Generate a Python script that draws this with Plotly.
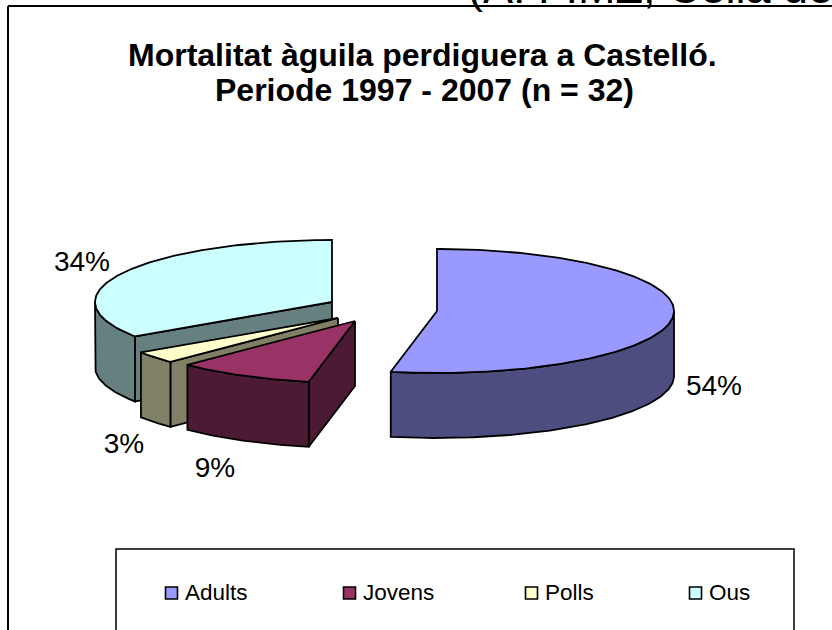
import numpy as np
import plotly.graph_objects as go

categories = ["Adults", "Jovens", "Polls", "Ous"]
counts = [17, 3, 1, 11]  # deaths per class, total n = 32
printed_pct = [54, 9, 3, 34]  # percentages as printed beside the slices
top_colors = ["#9999FF", "#993366", "#FFFFCC", "#CCFFFF"]
side_colors = ["#4D4D80", "#4D1A33", "#808066", "#668080"]

W, H = 832, 630
RX, RY, DEPTH = 237, 62, 65
# apex of each exploded slice on the canvas
apex = {"Adults": (437, 311), "Jovens": (355, 321), "Polls": (338, 318), "Ous": (332, 302)}
label_pos = {"Adults": (714, 388), "Jovens": (215, 470), "Polls": (124, 446), "Ous": (82, 264)}
legend_x = {"Adults": 171.5, "Jovens": 349.5, "Polls": 531.5, "Ous": 695.5}
LEGEND_Y = 593

total = sum(counts)
cum = np.cumsum([0] + counts) / total * 360.0
spans = {c: (cum[i], cum[i + 1]) for i, c in enumerate(categories)}


def rim(cat, a0, a1, dy=0.0):
    a = np.radians(np.linspace(a0, a1, max(int(abs(a1 - a0)), 2) + 1))
    cx, cy = apex[cat]
    return cx + RX * np.sin(a), cy - RY * np.cos(a) + dy


fig = go.Figure()


def poly(xs, ys, color, name):
    xs, ys = list(xs), list(ys)
    fig.add_trace(go.Scatter(
        x=xs + xs[:1], y=ys + ys[:1], mode="lines", fill="toself", fillcolor=color,
        line=dict(color="black", width=1.8), name=name, showlegend=False, hoverinfo="name"))


def outer_wall(cat, a0, a1, color):
    x, y = rim(cat, a0, a1)
    xb, yb = rim(cat, a0, a1, DEPTH)
    poly(list(x) + list(xb[::-1]), list(y) + list(yb[::-1]), color, cat)


def radial_wall(cat, ang, color):
    cx, cy = apex[cat]
    x, y = rim(cat, ang, ang)
    poly([cx, x[0], x[0], cx], [cy, y[0], y[0] + DEPTH, cy + DEPTH], color, cat)


def top(cat, color):
    cx, cy = apex[cat]
    a0, a1 = spans[cat]
    x, y = rim(cat, a0, a1)
    poly([cx] + list(x), [cy] + list(y), color, cat)


idx = {c: i for i, c in enumerate(categories)}

# Ous (back left)
c = "Ous"
radial_wall(c, spans[c][0], side_colors[idx[c]])
outer_wall(c, spans[c][0], 270, side_colors[idx[c]])
top(c, top_colors[idx[c]])
# Polls
c = "Polls"
radial_wall(c, spans[c][0], side_colors[idx[c]])
outer_wall(c, spans[c][0], spans[c][1], side_colors[idx[c]])
top(c, top_colors[idx[c]])
# Jovens
c = "Jovens"
radial_wall(c, spans[c][0], side_colors[idx[c]])
outer_wall(c, spans[c][0], spans[c][1], side_colors[idx[c]])
top(c, top_colors[idx[c]])
# Adults
c = "Adults"
outer_wall(c, 90, spans[c][1], side_colors[idx[c]])
top(c, top_colors[idx[c]])

# Data labels
fig.add_trace(go.Scatter(
    x=[label_pos[c][0] for c in categories], y=[label_pos[c][1] for c in categories],
    text=[f"{p}%" for p in printed_pct], mode="text", textposition="middle center",
    textfont=dict(family="Liberation Sans", size=28, color="black"),
    showlegend=False, hoverinfo="skip"))

# Legend row
fig.add_trace(go.Scatter(
    x=[legend_x[c] for c in categories], y=[LEGEND_Y] * 4, mode="markers",
    marker=dict(symbol="square", size=12, color=top_colors, line=dict(color="black", width=1.6)),
    showlegend=False, hoverinfo="skip"))
fig.add_trace(go.Scatter(
    x=[legend_x[c] + 13.5 for c in categories], y=[LEGEND_Y + 1.5] * 4, text=categories,
    mode="text", textposition="middle right",
    textfont=dict(family="Liberation Sans", size=22.5, color="black"),
    showlegend=False, hoverinfo="skip"))

shapes = [
    dict(type="line", x0=8, x1=W, y0=6, y1=6, line=dict(color="black", width=2)),
    dict(type="line", x0=8, x1=8, y0=6, y1=H, line=dict(color="black", width=2)),
    dict(type="rect", x0=116, x1=794, y0=549, y1=H + 10, line=dict(color="black", width=1.5),
         fillcolor="white", layer="below"),
]
title_font = dict(family="Liberation Sans", size=32, color="black")
annotations = [
    dict(x=422, y=55, xref="x", yref="y", showarrow=False,
         text="<b>Mortalitat àguila perdiguera a Castelló.</b>", font=title_font),
    dict(x=424, y=90, xref="x", yref="y", showarrow=False,
         text="<b>Periode 1997 - 2007 (n = 32)</b>", font=title_font),
    dict(x=466, y=15, xref="x", yref="y", xanchor="left", yanchor="bottom", showarrow=False,
         text="(A. FIMZ, Cella de",
         font=dict(family="Liberation Sans", size=45, color="black")),
]
fig.update_layout(
    width=W, height=H, margin=dict(l=0, r=0, t=0, b=0), paper_bgcolor="white", plot_bgcolor="white",
    xaxis=dict(range=[0, W], visible=False, fixedrange=True),
    yaxis=dict(range=[H, 0], visible=False, fixedrange=True),
    shapes=shapes, annotations=annotations, showlegend=False)

fig.write_html("out.html", config={"displayModeBar": False},
               post_script="document.body.style.margin='0';")
